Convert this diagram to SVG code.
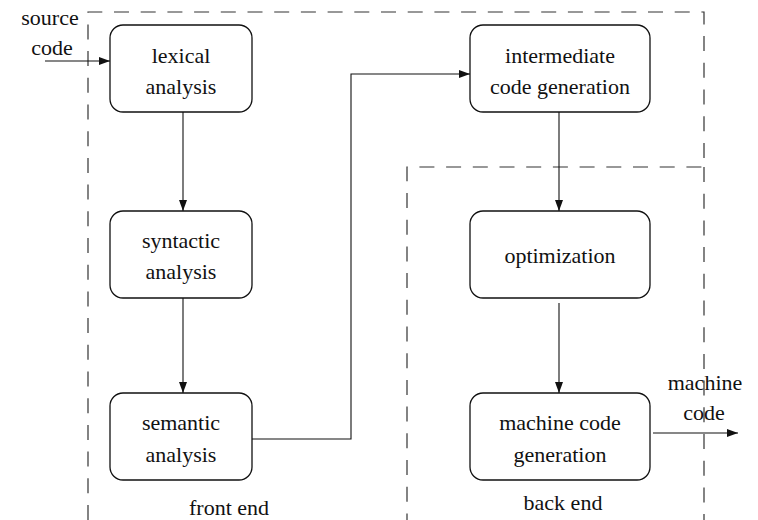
<svg xmlns="http://www.w3.org/2000/svg" width="758" height="520" viewBox="0 0 758 520">
  <style>
    .box { fill: #fff; stroke: #111; stroke-width: 1.3; }
    .lbl { font-family: "Liberation Serif", "Times New Roman", serif; font-size: 22px; fill: #111; text-anchor: middle; }
    .wire { fill: none; stroke: #111; stroke-width: 1.1; }
    .region { fill: none; stroke: #333; stroke-width: 1.2; stroke-dasharray: 15 11.7; }
  </style>
  <defs>
    <marker id="arrow" markerUnits="userSpaceOnUse" markerWidth="12" markerHeight="9" refX="11" refY="4" orient="auto">
      <path d="M0,0 L11,4 L0,8 Z" fill="#111"/>
    </marker>
  </defs>
  <rect width="758" height="520" fill="#fff"/>

  <!-- compiler phase groupings -->
  <g id="regions">
    <path class="region" d="M88,520 V12 H704 V167 H407 V520"/>
    <path class="region" d="M704,167 V520"/>
    <text class="lbl" x="229" y="515">front end</text>
    <text class="lbl" x="563" y="510">back end</text>
  </g>

  <g id="connectors">
    <path class="wire" d="M45,61 H110" marker-end="url(#arrow)"/>
    <path class="wire" d="M183,112 V211" marker-end="url(#arrow)"/>
    <path class="wire" d="M183,298 V393" marker-end="url(#arrow)"/>
    <path class="wire" d="M252,439 H351 V74 H470" marker-end="url(#arrow)"/>
    <path class="wire" d="M559,112 V211" marker-end="url(#arrow)"/>
    <path class="wire" d="M559,303 V393" marker-end="url(#arrow)"/>
    <path class="wire" d="M653,433 H738" marker-end="url(#arrow)"/>
    <text class="lbl" x="50" y="25">source</text>
    <text class="lbl" x="52" y="55">code</text>
    <text class="lbl" x="705" y="390">machine</text>
    <text class="lbl" x="704" y="420">code</text>
  </g>

  <g id="lexical">
    <rect class="box" x="110" y="25" width="142" height="87" rx="13"/>
    <text class="lbl" x="181" y="63">lexical</text>
    <text class="lbl" x="181" y="94">analysis</text>
  </g>
  <g id="syntactic">
    <rect class="box" x="110" y="211" width="142" height="87" rx="13"/>
    <text class="lbl" x="181" y="248">syntactic</text>
    <text class="lbl" x="181" y="279">analysis</text>
  </g>
  <g id="semantic">
    <rect class="box" x="110" y="393" width="142" height="87" rx="13"/>
    <text class="lbl" x="181" y="430">semantic</text>
    <text class="lbl" x="181" y="462">analysis</text>
  </g>
  <g id="intermediate">
    <rect class="box" x="470" y="25" width="180" height="87" rx="13"/>
    <text class="lbl" x="560" y="63">intermediate</text>
    <text class="lbl" x="560" y="94">code generation</text>
  </g>
  <g id="optimization">
    <rect class="box" x="470" y="211" width="180" height="87" rx="13"/>
    <text class="lbl" x="560" y="263">optimization</text>
  </g>
  <g id="machine-code-generation">
    <rect class="box" x="470" y="393" width="180" height="87" rx="13"/>
    <text class="lbl" x="560" y="430">machine code</text>
    <text class="lbl" x="560" y="462">generation</text>
  </g>
</svg>
